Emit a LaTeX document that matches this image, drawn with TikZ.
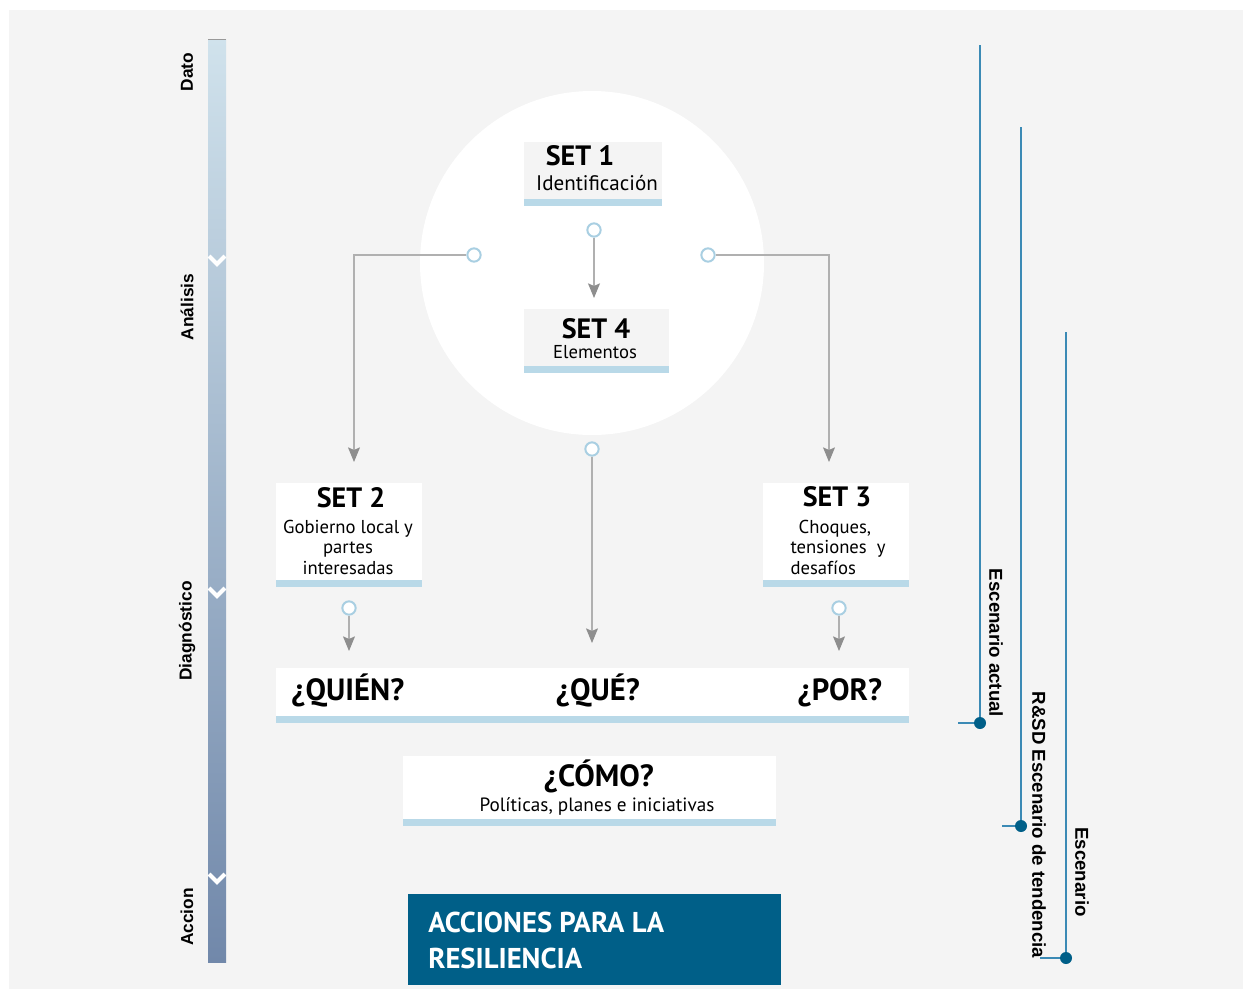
\documentclass[tikz,border=0pt]{standalone}
\usepackage{fontspec}
\setmainfont{PT Sans}
\newfontfamily\labelfont{Liberation Sans}
\usetikzlibrary{arrows.meta}

\definecolor{paper}{HTML}{F4F4F4}
\definecolor{barblue}{HTML}{B9D9E8}
\definecolor{ringblue}{HTML}{A9CFE2}
\definecolor{linkgray}{HTML}{B0B0B0}
\definecolor{tipgray}{HTML}{8E8E8E}
\definecolor{deepblue}{HTML}{005F88}
\definecolor{scenblue}{HTML}{3B8AB5}
\definecolor{scaletop}{HTML}{D0E2EC}
\definecolor{scalebottom}{HTML}{7188AA}

\begin{document}
\begin{tikzpicture}[x=0.75pt,y=-0.75pt]
        \tikzset{setbox/.style={inner sep=0pt, fill=white,
                    path picture={\fill[barblue]
                      ([yshift=5.25pt]path picture bounding box.south west)
                      rectangle (path picture bounding box.south east);}},
                 ring/.style={circle, draw=ringblue, line width=1.5pt,
                    fill=white, minimum size=10pt, inner sep=0pt},
                 link/.style={draw=linkgray, line width=0.8pt,
                    -{Stealth[length=11pt, width=9pt, inset=2pt, color=tipgray]}},
                 enddot/.style={circle, fill=deepblue, minimum size=9pt,
                    inner sep=0pt},
                 scenline/.style={draw=scenblue, line width=0.8pt},
                 axislabel/.style={font=\labelfont\bfseries\fontsize{13}{15}\selectfont,
                    rotate=90},
                 scenlabel/.style={font=\labelfont\bfseries\fontsize{14}{16}\selectfont,
                    rotate=-90},
                 settitle/.style={font=\bfseries\fontsize{21}{23}\selectfont},
                 settext/.style={font=\fontsize{14}{15.4}\selectfont},
                 question/.style={font=\bfseries\fontsize{23}{25}\selectfont,
                    anchor=base}}

        \useasboundingbox (0,0) rectangle (1243,989);
        \fill[paper] (9,10) rectangle (1243,989);

        % scale on the left
        \shade[top color=scaletop, bottom color=scalebottom]
              (208,39) rectangle (226,962);
        \draw[gray!80, line width=1pt] (208,39.5) -- (226,39.5);
        \foreach \y in {256,588,874}
          \draw[white, line width=3pt] (209,\y) -- (217,\y+8) -- (225,\y);

        \node[axislabel] (dato) at (187,72) {Dato};
        \node[axislabel] (analisis) at (187,307) {Análisis};
        \node[axislabel] (diag) at (187,631) {Diagnóstico};
        \node[axislabel] (accion) at (187,917) {Accion};

        % central circle
        \node[circle, fill=white, minimum size=258pt] (core) at (592,263) {};

        % sets
        \node[setbox, fill=paper, minimum width=103.5pt, minimum height=48pt]
             (set1) at (593,174) {};
        \node[setbox, fill=paper, minimum width=108.75pt, minimum height=48pt]
             (set4) at (596.5,341) {};
        \node[setbox, minimum width=109.5pt, minimum height=78pt]
             (set2) at (349,535) {};
        \node[setbox, minimum width=109.5pt, minimum height=78pt]
             (set3) at (836,535) {};
        \node[setbox, minimum width=474.75pt, minimum height=41.25pt]
             (preguntas) at (592.5,695.5) {};
        \node[setbox, minimum width=279.75pt, minimum height=52.5pt]
             (como) at (589.5,791) {};
        \node[fill=deepblue, minimum width=279.75pt, minimum height=68.25pt]
             (acciones) at (594.5,939.5) {};

        \node[settitle] (t1) at (580,156) {SET 1};
        \node[settext, font=\fontsize{15.8}{17}\selectfont] (d1) at (597,183)
             {Identificación};
        \node[settitle] (t4) at (596,329) {SET 4};
        \node[settext] (d4) at (595,352) {Elementos};
        \node[settitle] (t2) at (351,498) {SET 2};
        \node[settext, align=center] (d2) at (348,547)
             {Gobierno local y\\partes\\interesadas};
        \node[settitle] (t3) at (837,497) {SET 3};
        \node[settext, align=left] (d3) at (838,547)
             {\ \,Choques,\\tensiones\ \ y\\desafíos};

        \node[question] (quien) at (348,700) {¿QUIÉN?};
        \node[question] (que) at (598,700) {¿QUÉ?};
        \node[question] (por) at (840,700) {¿POR?};
        \node[question] (comot) at (599,786) {¿CÓMO?};
        \node[settext, font=\fontsize{14.4}{16}\selectfont] (comod) at (597,806)
             {Políticas, planes e iniciativas};
        \node[font=\bfseries\fontsize{21.5}{27}\selectfont, text=white,
              align=left, anchor=west, inner sep=0pt] (accionest) at (428,940)
             {ACCIONES PARA LA\\RESILIENCIA};

        % connectors
        \node[ring] (r1) at (594,230) {};
        \node[ring] (r2) at (474,255) {};
        \node[ring] (r3) at (708,255) {};
        \node[ring] (r4) at (592,449) {};
        \node[ring] (r5) at (349,608) {};
        \node[ring] (r6) at (839,608) {};
        \coordinate (a1) at (594,298);
        \coordinate (a2) at (354,462);
        \coordinate (a3) at (829,462);
        \coordinate (a4) at (592,643);
        \coordinate (a5) at (349,651);
        \coordinate (a6) at (839,651);
        \draw[link] (r1) -- (a1);
        \draw[link] (r2) -| (a2);
        \draw[link] (r3) -| (a3);
        \draw[link] (r4) -- (a4);
        \draw[link] (r5) -- (a5);
        \draw[link] (r6) -- (a6);

        % scenarios on the right
        \coordinate (top1) at (980,45);
        \coordinate (top2) at (1021,127);
        \coordinate (top3) at (1066,332);
        \coordinate (tick1) at (958,723);
        \coordinate (tick2) at (1002,826);
        \coordinate (tick3) at (1040,958);
        \draw[scenline] (top1) -- (980,723) -- (tick1);
        \draw[scenline] (top2) -- (1021,826) -- (tick2);
        \draw[scenline] (top3) -- (1066,958) -- (tick3);
        \node[enddot] (e1) at (980,723) {};
        \node[enddot] (e2) at (1021,826) {};
        \node[enddot] (e3) at (1066,958) {};

        \node[scenlabel] (l1) at (996,643) {Escenario actual};
        \node[scenlabel] (l2) at (1039,825) {R\&SD Escenario de tendencia};
        \node[scenlabel] (l3) at (1082,872) {Escenario};
\end{tikzpicture}
\end{document}
